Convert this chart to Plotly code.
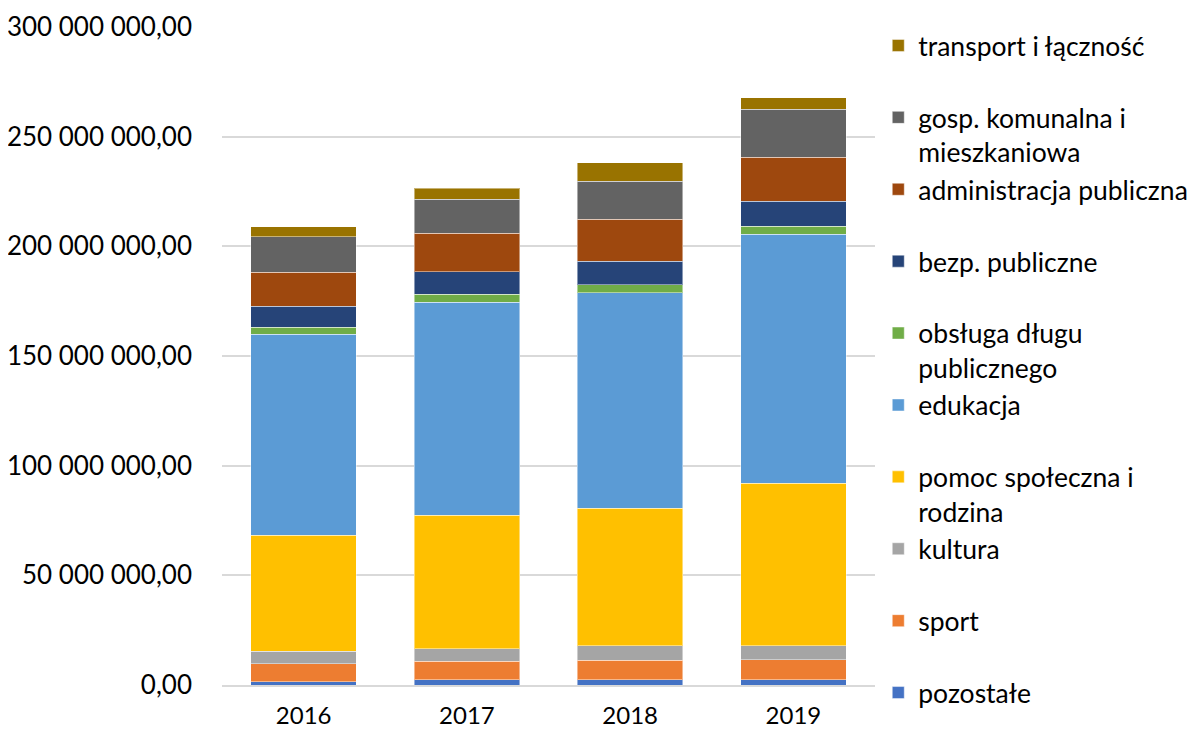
import plotly.graph_objects as go

years = ["2016", "2017", "2018", "2019"]

pozostale = [1_400_000, 2_500_000, 2_500_000, 2_500_000]
sport = [8_400_000, 8_300_000, 8_900_000, 9_100_000]
kultura = [5_600_000, 5_800_000, 6_400_000, 6_400_000]
pomoc = [52_800_000, 60_700_000, 62_900_000, 74_000_000]
edukacja = [91_700_000, 97_100_000, 98_100_000, 113_400_000]
obsluga = [3_200_000, 3_800_000, 3_800_000, 3_700_000]
bezp = [9_600_000, 10_200_000, 10_500_000, 11_400_000]
administracja = [15_500_000, 17_500_000, 19_200_000, 20_100_000]
gosp = [16_200_000, 15_500_000, 17_300_000, 21_900_000]
transport = [4_600_000, 5_000_000, 8_500_000, 5_200_000]

series = [
    ("pozostałe", pozostale, "#4472C4"),
    ("sport", sport, "#ED7D31"),
    ("kultura", kultura, "#A5A5A5"),
    ("pomoc społeczna i<br>rodzina", pomoc, "#FFC000"),
    ("edukacja", edukacja, "#5B9BD5"),
    ("obsługa długu<br>publicznego", obsluga, "#70AD47"),
    ("bezp. publiczne", bezp, "#264478"),
    ("administracja publiczna", administracja, "#9E480E"),
    ("gosp. komunalna i<br>mieszkaniowa", gosp, "#636363"),
    ("transport i łączność", transport, "#997300"),
]

tick_vals = [0, 50_000_000, 100_000_000, 150_000_000, 200_000_000, 250_000_000, 300_000_000]
tick_text = ["0,00", "50 000 000,00", "100 000 000,00", "150 000 000,00",
             "200 000 000,00", "250 000 000,00", "300 000 000,00"]

fig = go.Figure()
n = len(series)
for i, (name, vals, color) in enumerate(series):
    label = name if "<br>" in name else name + "<br> "
    fig.add_trace(go.Bar(
        x=years, y=vals, name=label, legendgroup=f"g{i}", legendrank=100 + (n - i),
        marker=dict(color=color, line=dict(color="rgba(255,255,255,0.45)", width=1)),
    ))

fig.update_layout(
    barmode="stack",
    bargap=0.354,
    width=1203, height=733,
    margin=dict(l=214, r=336, t=19, b=56, autoexpand=False),
    paper_bgcolor="white", plot_bgcolor="white",
    font=dict(family="Lato, Carlito, sans-serif", size=26, color="#000000"),
    legend=dict(
        x=1.005, xanchor="left", y=1.008, yanchor="top",
        traceorder="grouped", tracegroupgap=0,
        valign="top",
        font=dict(size=26.5, color="#000000"),
        bgcolor="rgba(0,0,0,0)",
    ),
    xaxis=dict(
        showgrid=False, showline=True, linecolor="#D9D9D9", linewidth=1.5,
        ticks="", tickfont=dict(size=24), ticklabelstandoff=8,
    ),
    yaxis=dict(
        range=[0, 300_000_000], tickvals=tick_vals, ticktext=tick_text,
        showgrid=True, gridcolor="#D9D9D9", gridwidth=1.5,
        zeroline=False, showline=False, ticks="",
        ticklabelstandoff=29, tickfont=dict(size=26),
    ),
)
try:
    fig.update_layout(legend_maxheight=760)
except Exception:
    pass

fig.write_html("out.html")
